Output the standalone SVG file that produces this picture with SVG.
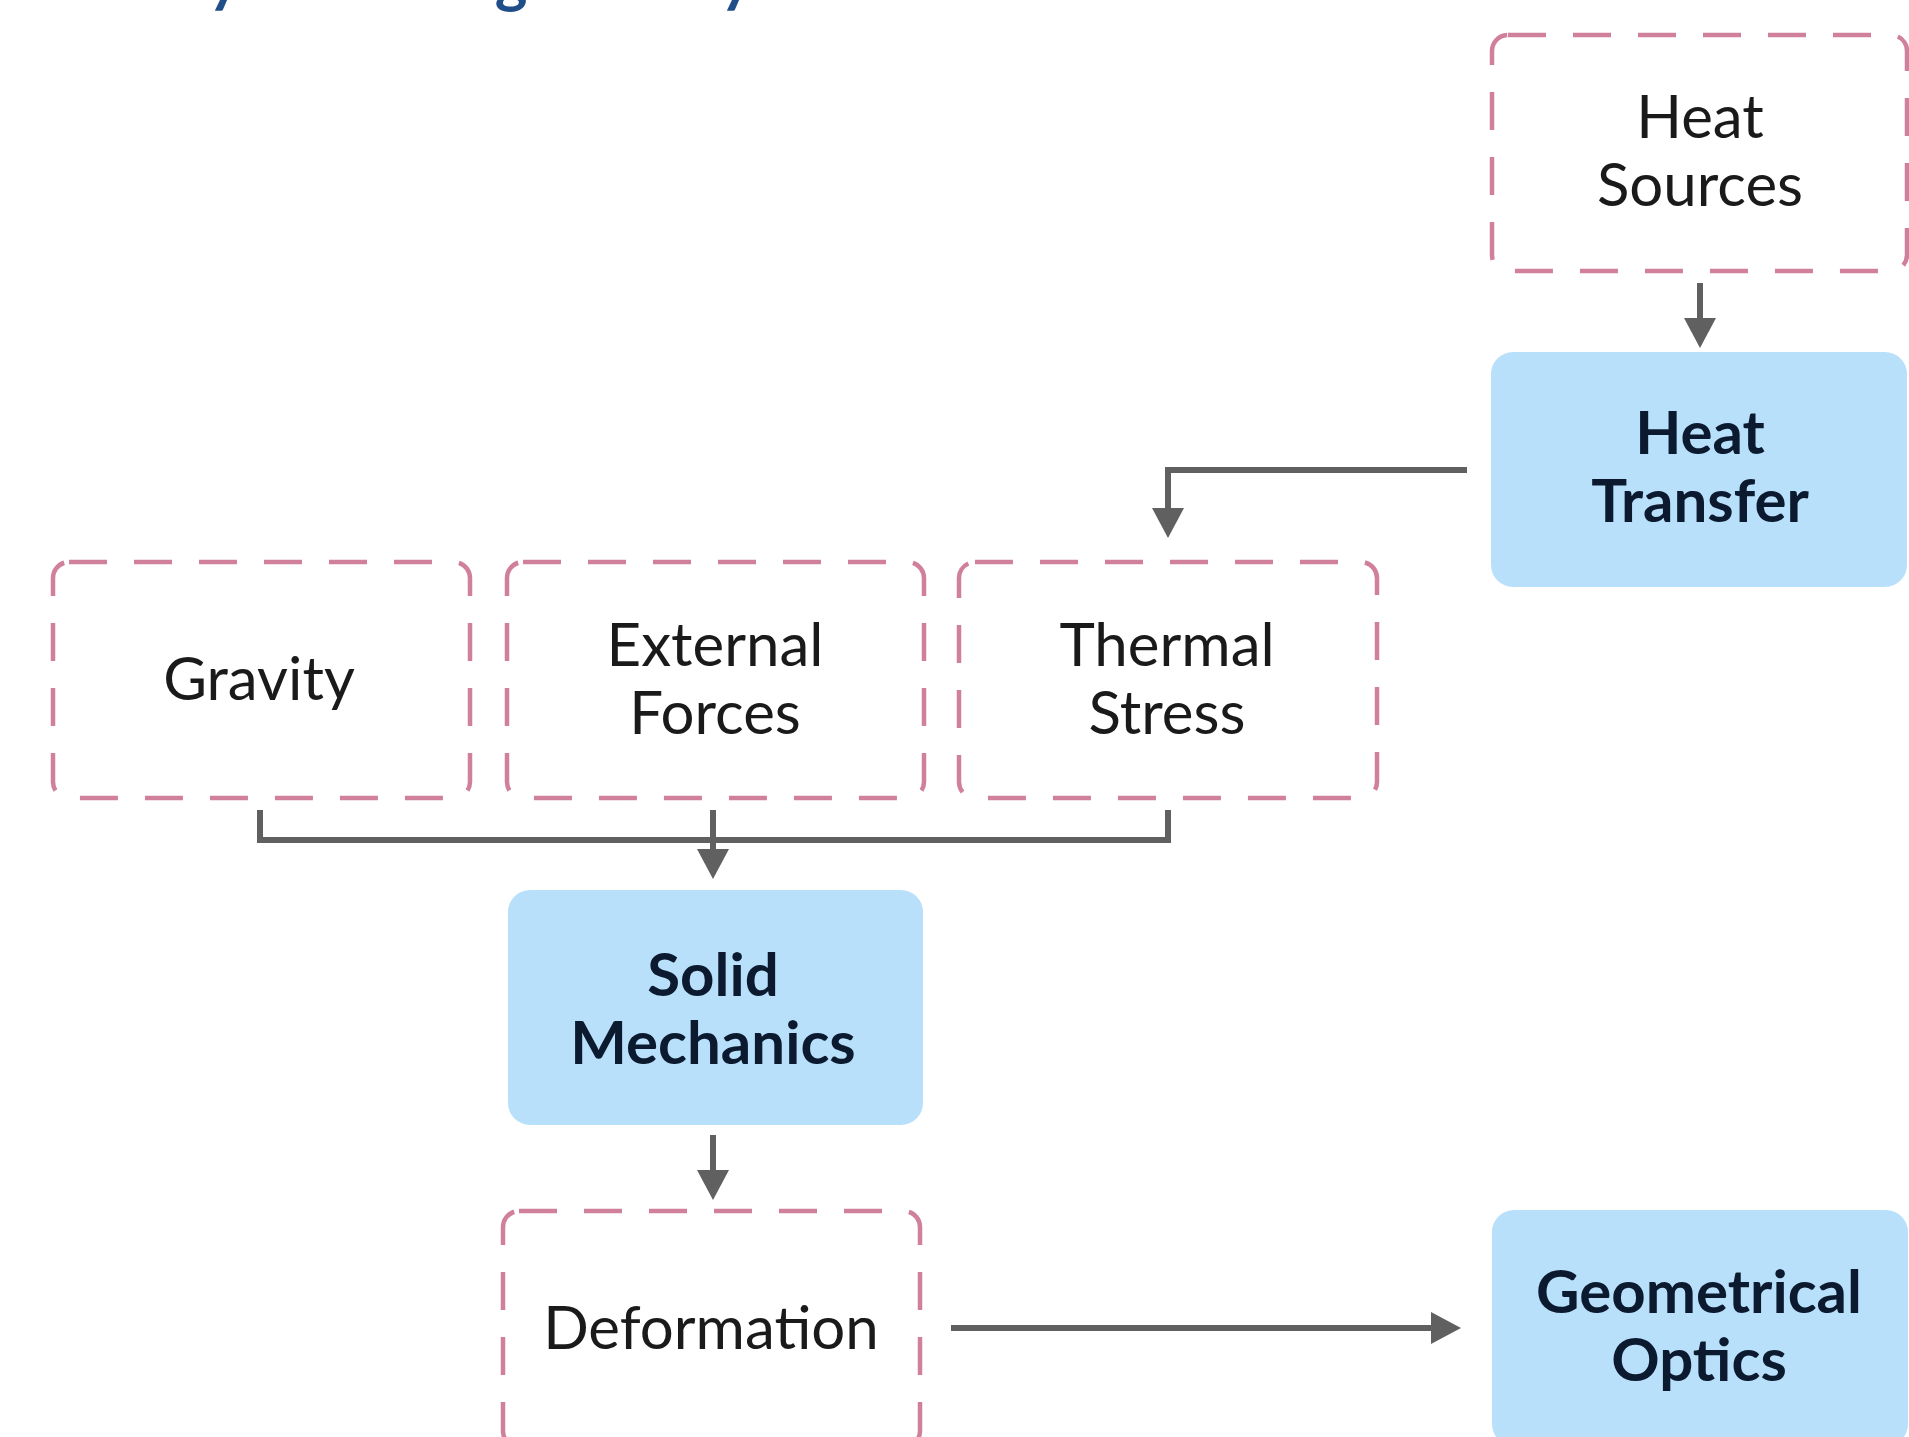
<svg xmlns="http://www.w3.org/2000/svg" width="1909" height="1437" viewBox="0 0 1909 1437">
<defs>
<style>
.dash{fill:#ffffff;stroke:#d0809a;stroke-width:4.5;stroke-dasharray:38 27}
.solid{fill:#b9e0fb;stroke:none}
.t{font-family:Lato,"Liberation Sans",sans-serif;font-size:60px;fill:#1a1a1a;text-anchor:middle}
.b{font-family:Lato,"Liberation Sans",sans-serif;font-size:60px;font-weight:bold;fill:#0b1a2e;text-anchor:middle}
.title{font-family:Lato,"Liberation Sans",sans-serif;font-size:62px;font-weight:bold;fill:#1f4e89;text-anchor:middle}
.c{fill:none;stroke:#606060;stroke-width:6;stroke-linejoin:miter}
</style>
<marker id="ah" markerUnits="userSpaceOnUse" viewBox="0 0 30 32" markerWidth="30" markerHeight="32" refX="0" refY="16" orient="auto">
<path d="M0,0 L30,16 L0,32 z" fill="#606060"/>
</marker>
</defs>
<rect width="1909" height="1437" fill="#ffffff"/>
<g id="title">
<text class="title" x="224" y="1">y</text>
<text class="title" x="511" y="1">g</text>
<text class="title" x="736" y="1">y</text>
</g>
<g id="connectors">
<path class="c" d="M1700,283 V318" marker-end="url(#ah)"/>
<path class="c" d="M1467,470 H1168 V508" marker-end="url(#ah)"/>
<path class="c" d="M260,810 V840 H1168 V810"/>
<path class="c" d="M713,810 V849" marker-end="url(#ah)"/>
<path class="c" d="M713,1135 V1170" marker-end="url(#ah)"/>
<path class="c" d="M951,1328 H1431" marker-end="url(#ah)"/>
</g>
<g id="heat-sources">
<rect class="dash" x="1492" y="35" width="415" height="236" rx="16"/>
<text class="t" x="1700" y="138">Heat</text>
<text class="t" x="1700" y="206">Sources</text>
</g>
<g id="heat-transfer">
<rect class="solid" x="1491" y="352" width="416" height="235" rx="22"/>
<text class="b" x="1700" y="454">Heat</text>
<text class="b" x="1700" y="522">Transfer</text>
</g>
<g id="gravity">
<rect class="dash" x="53" y="562" width="417" height="236" rx="16"/>
<text class="t" x="259" y="700">Gravity</text>
</g>
<g id="external-forces">
<rect class="dash" x="507" y="562" width="417" height="236" rx="16"/>
<text class="t" x="715" y="666">External</text>
<text class="t" x="715" y="734">Forces</text>
</g>
<g id="thermal-stress">
<rect class="dash" x="959" y="562" width="418" height="236" rx="16"/>
<text class="t" x="1167" y="666">Thermal</text>
<text class="t" x="1167" y="734">Stress</text>
</g>
<g id="solid-mechanics">
<rect class="solid" x="508" y="890" width="415" height="235" rx="22"/>
<text class="b" x="713" y="996">Solid</text>
<text class="b" x="713" y="1064">Mechanics</text>
</g>
<g id="deformation">
<rect class="dash" x="503" y="1211" width="417" height="236" rx="16"/>
<text class="t" x="711" y="1349">Deformation</text>
</g>
<g id="geometrical-optics">
<rect class="solid" x="1492" y="1210" width="416" height="236" rx="22"/>
<text class="b" x="1699" y="1313">Geometrical</text>
<text class="b" x="1699" y="1381">Optics</text>
</g>
</svg>
